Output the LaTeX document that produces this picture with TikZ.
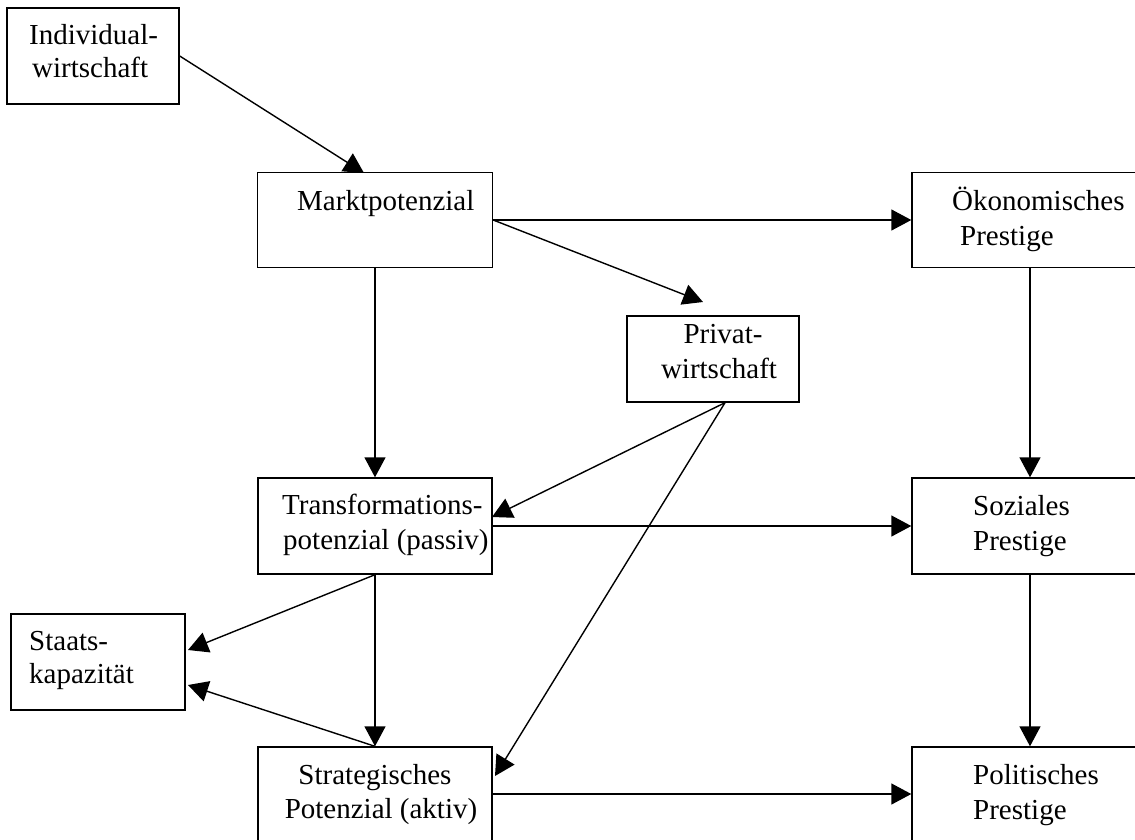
\documentclass[tikz,border=0pt]{standalone}
\usepackage{fontspec}
\setmainfont{Liberation Serif}
\usetikzlibrary{arrows.meta,calc}
\tikzset{
  box/.style={draw, line width=1.4pt, rectangle, inner sep=0pt},
  lbl/.style={inner sep=0pt, font=\fontsize{29}{35}\selectfont},
  conn/.style={line width=1.4pt, -{Triangle[length=20pt,width=21pt]}}
}
\begin{document}
\begin{tikzpicture}[x=1pt,y=-1pt]
\useasboundingbox (0,0) rectangle (1135,839);
\clip (0,0) rectangle (1135,839);
% boxes
\node[box, minimum width=172pt, minimum height=96pt] (ind) at (93,56) {};
\node[box, minimum width=235pt, minimum height=95pt] (markt) at (375,220) {};
\node[box, minimum width=172pt, minimum height=86pt] (priv) at (713,359) {};
\node[box, minimum width=236pt, minimum height=95pt] (oek) at (1030,220) {};
\node[box, minimum width=234pt, minimum height=96pt] (trans) at (375,526) {};
\node[box, minimum width=236pt, minimum height=96pt] (soz) at (1030,526) {};
\node[box, minimum width=174pt, minimum height=96pt] (staat) at (98,662) {};
\node[box, minimum width=234pt, minimum height=94pt] (strat) at (375,794) {};
\node[box, minimum width=236pt, minimum height=94pt] (pol) at (1030,794) {};
% texts
\node[lbl, anchor=base west] (t1) at (29,44) {Individual-};
\node[lbl, anchor=base west] (t2) at (32,77) {wirtschaft};
\node[lbl, anchor=base west] (t3) at (297,210) {Marktpotenzial};
\node[lbl, anchor=base] (t4) at (723,343) {Privat-};
\node[lbl, anchor=base] (t5) at (719,378) {wirtschaft};
\node[lbl, anchor=base west] (t6) at (952,210) {Ökonomisches};
\node[lbl, anchor=base west] (t7) at (960,245) {Prestige};
\node[lbl, anchor=base west] (t8) at (282,514) {Transformations-};
\node[lbl, anchor=base west] (t9) at (283,549) {potenzial (passiv)};
\node[lbl, anchor=base west] (t10) at (973,515) {Soziales};
\node[lbl, anchor=base west] (t11) at (973,550) {Prestige};
\node[lbl, anchor=base west] (t12) at (29,650) {Staats-};
\node[lbl, anchor=base west] (t13) at (29,683) {kapazität};
\node[lbl, anchor=base] (t14) at (375,784) {Strategisches};
\node[lbl, anchor=base] (t15) at (381,818) {Potenzial (aktiv)};
\node[lbl, anchor=base west] (t16) at (973,784) {Politisches};
\node[lbl, anchor=base west] (t17) at (973,819) {Prestige};
% attachment points
\coordinate (mkin) at (364,173);
\coordinate (pvin) at (703,302);
\coordinate (pvout) at ($(priv.south)+(12,0)$);
\coordinate (trin) at (492,517);
\coordinate (stin) at (495,776);
\coordinate (sk1) at (188,650);
\coordinate (sk2) at (188,685);
% connectors
\draw[conn] (ind.east) -- (mkin);
\draw[conn] (markt.east) -- (markt.east -| oek.west);
\draw[conn] (markt.east) -- (pvin);
\draw[conn] (markt.south) -- (trans.north);
\draw[conn] (pvout) -- (trin);
\draw[conn] (pvout) -- (stin);
\draw[conn] (trans.east) -- (trans.east -| soz.west);
\draw[conn] (oek.south) -- (soz.north);
\draw[conn] (soz.south) -- (pol.north);
\draw[conn] (trans.south) -- (strat.north);
\draw[conn] (trans.south) -- (sk1);
\draw[conn] (strat.north) -- (sk2);
\draw[conn] (strat.east) -- (strat.east -| pol.west);
\end{tikzpicture}
\end{document}
